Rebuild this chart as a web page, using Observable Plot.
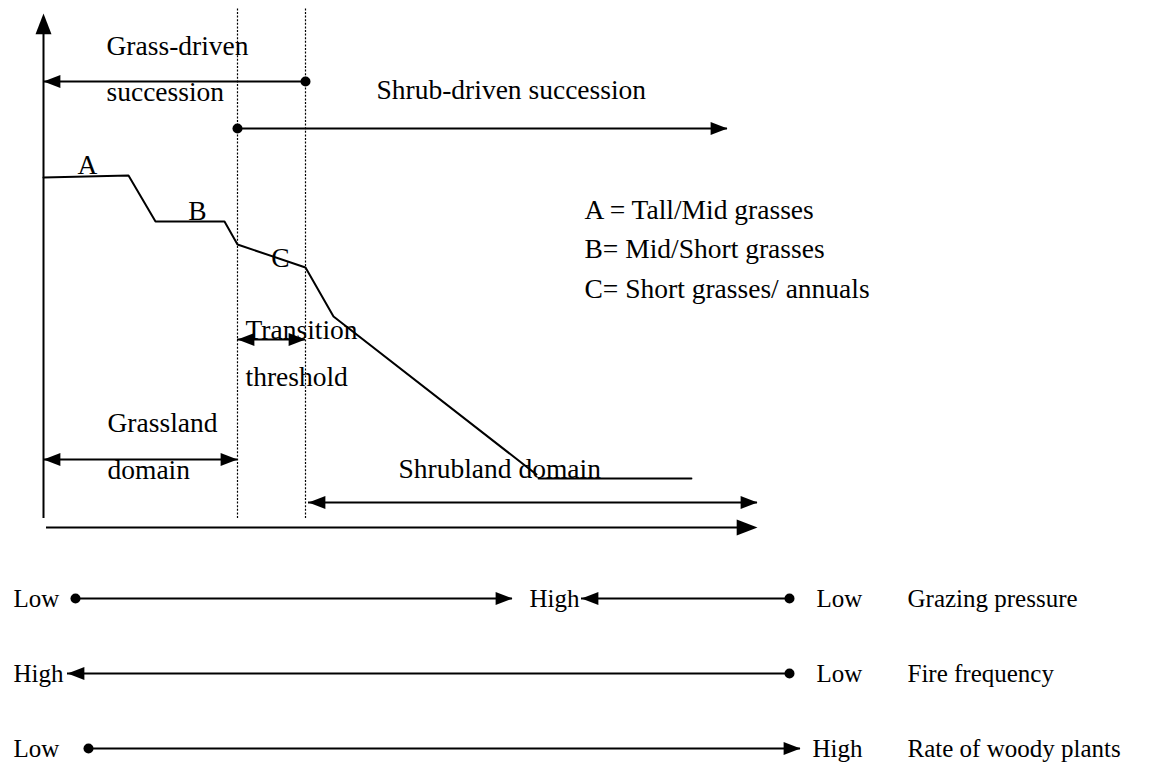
<!DOCTYPE html>
<html><head><meta charset="utf-8">
<script src="https://cdn.jsdelivr.net/npm/d3@7"></script>
<script src="https://cdn.jsdelivr.net/npm/@observablehq/plot@0.6"></script>
<style>
html,body{margin:0;padding:0;background:#fff;}
#chart svg{display:block;}
</style>
</head><body><div id="chart"></div>
<script>
// ---- data (chart units: x = grazing axis offset, y = cover axis offset) ----
const curveGrazing = [0, 85, 112, 181, 194, 262, 290, 493];
const curveCover   = [350, 352, 306, 306, 283, 260, 211, 53];
const plateauGrazing = [495, 648];
const plateauCover   = [49, 49];
const thresholdGrazing = [194, 262];

const successionStart = [262, 194];
const successionEnd   = [0, 684];
const successionLevel = [446, 399];

const domainStart = [0, 194, 265];
const domainEnd   = [194, 262, 714];
const domainLevel = [68, 188, 25];

const stageLetters = ["A", "B", "C"];
const stageGrazing = [44, 154, 237];
const stageCover   = [354, 308, 261];

const legendLabels = ["A = Tall/Mid grasses", "B= Mid/Short grasses", "C= Short grasses/ annuals"];
const legendCover  = [309, 270, 230];

const noteLabels = ["Grass-driven", "succession", "Shrub-driven succession", "Transition", "threshold", "Grassland", "domain", "Shrubland domain"];
const noteGrazing = [63, 63, 333, 202, 202, 64, 64, 355];
const noteCover   = [473, 427, 429, 189, 142, 96, 49, 50];

const factorNames = ["Grazing pressure", "Fire frequency", "Rate of woody plants"];
const factorLevel = [-71, -146, -221];
const segFactor = [0, 0, 1, 2];
const segStart  = [32, 746, 746, 45];
const segEnd    = [469, 538, 24, 757];
const gradLabels = ["Low", "High", "Low", "High", "Low", "Low", "High"];
const gradFactor = [0, 0, 0, 1, 1, 2, 2];
const gradX      = [-30, 486, 773, -30, 773, -30, 769];

// ---- helpers ----
function head(dx, dy, k = 2.6) {
  return {
    draw(ctx, size) {
      const r = Math.sqrt(size / Math.PI), L = k * r, W = r;
      const bx = -L * dx, by = -L * dy, px = -dy * W, py = dx * W;
      ctx.moveTo(0, 0);
      ctx.lineTo(bx + px, by + py);
      ctx.lineTo(bx - px, by - py);
      ctx.closePath();
    }
  };
}
const headRight = head(1, 0), headLeft = head(-1, 0), headUp = head(0, -1);

const curve = curveGrazing.map((x, i) => ({x, y: curveCover[i]}));
const plateau = plateauGrazing.map((x, i) => ({x, y: plateauCover[i]}));
const succession = successionStart.map((s, i) => ({s, e: successionEnd[i], y: successionLevel[i]}));
const domains = domainStart.map((s, i) => ({s, e: domainEnd[i], y: domainLevel[i]}));
const segs = segStart.map((s, i) => ({s, e: segEnd[i], y: factorLevel[segFactor[i]]}));
const stages = stageLetters.map((t, i) => ({t, x: stageGrazing[i], y: stageCover[i]}));
const legend = legendLabels.map((t, i) => ({t, y: legendCover[i]}));
const notes = noteLabels.map((t, i) => ({t, x: noteGrazing[i], y: noteCover[i]}));
const grads = gradLabels.map((t, i) => ({t, x: gradX[i], y: factorLevel[gradFactor[i]]}));
const factors = factorNames.map((t, i) => ({t, y: factorLevel[i]}));

const rightHeads = [
  ...succession.filter(d => d.e > d.s).map(d => ({x: d.e, y: d.y})),
  ...domains.map(d => ({x: d.e, y: d.y})),
  ...segs.filter(d => d.e > d.s).map(d => ({x: d.e, y: d.y}))
];
const leftHeads = [
  ...succession.filter(d => d.e < d.s).map(d => ({x: d.e, y: d.y})),
  ...domains.map(d => ({x: d.s, y: d.y})),
  ...segs.filter(d => d.e < d.s).map(d => ({x: d.e, y: d.y}))
];
const dots = [
  ...succession.map(d => ({x: d.s, y: d.y})),
  ...segs.map(d => ({x: d.s, y: d.y}))
];

const font = "Liberation Serif, Times New Roman, serif";

const chart = Plot.plot({
  width: 1156, height: 766,
  margin: 0,
  x: {domain: [-43, 1113], axis: null},
  y: {domain: [-239, 527], axis: null},
  style: {background: "#fff", fontFamily: font},
  marks: [
    // thresholds
    Plot.ruleX(thresholdGrazing, {x: d => d, y1: 9, y2: 519, stroke: "#000", strokeWidth: 1.2, strokeDasharray: "2,1.6"}),
    // axes
    Plot.ruleX([0], {y1: 9, y2: 500, stroke: "#000", strokeWidth: 2}),
    Plot.dot([{x: 0, y: 514}], {x: "x", y: "y", symbol: headUp, r: 8, fill: "#000", stroke: null}),
    Plot.ruleY([0], {x1: 3, x2: 700, stroke: "#000", strokeWidth: 2}),
    Plot.dot([{x: 714, y: 0}], {x: "x", y: "y", symbol: headRight, r: 8, fill: "#000", stroke: null}),
    // curve
    Plot.line(curve, {x: "x", y: "y", stroke: "#000", strokeWidth: 2}),
    Plot.line(plateau, {x: "x", y: "y", stroke: "#000", strokeWidth: 1.8}),
    // arrows
    Plot.ruleY(succession, {x1: "s", x2: "e", y: "y", stroke: "#000", strokeWidth: 2}),
    Plot.ruleY(domains, {x1: "s", x2: "e", y: "y", stroke: "#000", strokeWidth: 1.8}),
    Plot.ruleY(segs, {x1: "s", x2: "e", y: "y", stroke: "#000", strokeWidth: 1.8}),
    Plot.dot(rightHeads, {x: "x", y: "y", symbol: headRight, r: 6.5, fill: "#000", stroke: null}),
    Plot.dot(leftHeads, {x: "x", y: "y", symbol: headLeft, r: 6.5, fill: "#000", stroke: null}),
    Plot.dot(dots, {x: "x", y: "y", r: 5, fill: "#000", stroke: null}),
    // texts
    Plot.text(notes, {x: "x", y: "y", text: "t", textAnchor: "start", lineAnchor: "bottom", fontSize: 27.5, fill: "#000"}),
    Plot.text(stages, {x: "x", y: "y", text: "t", textAnchor: "middle", lineAnchor: "bottom", fontSize: 27.5, fill: "#000"}),
    Plot.text(legend, {x: 541, y: "y", text: "t", textAnchor: "start", lineAnchor: "bottom", fontSize: 27.5, fill: "#000"}),
    Plot.text(grads, {x: "x", y: "y", text: "t", textAnchor: "start", lineAnchor: "middle", fontSize: 25, fill: "#000"}),
    Plot.text(factors, {x: 864, y: "y", text: "t", textAnchor: "start", lineAnchor: "middle", fontSize: 25, fill: "#000"})
  ]
});
document.getElementById("chart").appendChild(chart);
</script>
</body></html>
